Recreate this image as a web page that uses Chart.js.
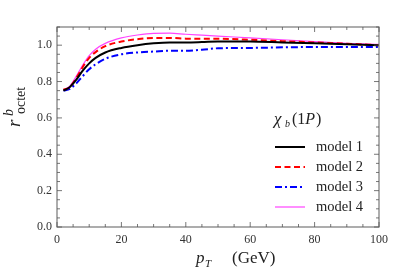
<!DOCTYPE html>
<html>
<head>
<meta charset="utf-8">
<script src="https://cdn.jsdelivr.net/npm/chart.js@4"></script>
<style>
  html, body { margin: 0; padding: 0; background: #fff; }
  #wrap { width: 407px; height: 277px; }
</style>
</head>
<body>
<div id="wrap"><canvas id="ratioChart" width="407" height="277"></canvas></div>
<script>
// pT values (GeV)
const pT = [2, 4, 6, 8, 10, 12, 15, 20, 25, 30, 35, 40, 45, 50, 60, 70, 80, 90, 100];

// r^b_octet for each model
const model1 = [0.750, 0.770, 0.810, 0.860, 0.900, 0.930, 0.960, 0.985, 1.000, 1.010, 1.015, 1.015, 1.017, 1.020, 1.020, 1.015, 1.010, 1.005, 1.000];
const model2 = [0.755, 0.770, 0.820, 0.880, 0.930, 0.962, 0.995, 1.020, 1.033, 1.040, 1.040, 1.036, 1.035, 1.035, 1.030, 1.022, 1.015, 1.008, 1.000];
const model3 = [0.750, 0.760, 0.790, 0.830, 0.868, 0.895, 0.925, 0.950, 0.960, 0.965, 0.970, 0.970, 0.975, 0.983, 0.985, 0.988, 0.990, 0.990, 0.990];
const model4 = [0.755, 0.775, 0.830, 0.890, 0.942, 0.978, 1.010, 1.040, 1.056, 1.065, 1.066, 1.060, 1.055, 1.050, 1.040, 1.030, 1.020, 1.010, 1.005];

const labels = ['model 1', 'model 2', 'model 3', 'model 4'];
const colors = ['#000000', '#ff0000', '#0000ff', '#ff44ff'];
const widths = [2, 2, 2, 1.2];
const dashes = [[], [6, 3.5], [7, 3, 2, 3], []];

const xTicks = [0, 20, 40, 60, 80, 100];
const yTicks = [0.0, 0.2, 0.4, 0.6, 0.8, 1.0];

const serif = '"Liberation Serif", "DejaVu Serif", serif';

const series = [model1, model2, model3, model4];
const datasets = series.map((vals, i) => ({
    label: labels[i],
    data: pT.map((x, j) => ({ x: x, y: vals[j] })),
    borderColor: colors[i],
    borderWidth: widths[i],
    borderDash: dashes[i],
    pointRadius: 0,
    cubicInterpolationMode: 'monotone',
    fill: false
}));

// frame, inward ticks (major + minor, mirrored), axis titles, inset legend
const framePlugin = {
    id: 'frame',
    afterDraw(chart) {
        const ctx = chart.ctx;
        const a = chart.chartArea;
        const xs = chart.scales.x, ys = chart.scales.y;
        ctx.save();
        ctx.strokeStyle = '#777';
        ctx.lineWidth = 1.2;
        ctx.strokeRect(a.left, a.top, a.right - a.left, a.bottom - a.top);

        ctx.strokeStyle = '#555';
        ctx.lineWidth = 0.8;
        for (let v = 0; v <= 100; v += 5) {
            const px = xs.getPixelForValue(v);
            const len = v % 20 === 0 ? 5 : 3;
            ctx.beginPath();
            ctx.moveTo(px, a.bottom); ctx.lineTo(px, a.bottom - len);
            ctx.moveTo(px, a.top); ctx.lineTo(px, a.top + len);
            ctx.stroke();
        }
        for (let k = 0; k <= 22; k++) {
            const v = k * 0.05;
            const py = ys.getPixelForValue(v);
            const len = k % 4 === 0 ? 5 : 3;
            ctx.beginPath();
            ctx.moveTo(a.left, py); ctx.lineTo(a.left + len, py);
            ctx.moveTo(a.right, py); ctx.lineTo(a.right - len, py);
            ctx.stroke();
        }

        // x title: p_T   (GeV)
        ctx.fillStyle = '#222';
        ctx.textBaseline = 'alphabetic';
        ctx.textAlign = 'left';
        ctx.font = 'italic 17px ' + serif;
        ctx.fillText('p', 196, 263);
        ctx.font = 'italic 11px ' + serif;
        ctx.fillText('T', 205, 267);
        ctx.font = '17px ' + serif;
        ctx.fillText('(GeV)', 232, 263);

        // y title: r^b_octet, rotated
        ctx.save();
        ctx.translate(20, 127);
        ctx.rotate(-Math.PI / 2);
        ctx.font = 'italic 19px ' + serif;
        ctx.fillText('r', 0, 0);
        ctx.font = '14px ' + serif;
        ctx.fillText('octet', 13, 5);
        ctx.font = 'italic 14px ' + serif;
        ctx.fillText('b', 11, -7);
        ctx.restore();

        // legend title: chi_b(1P)
        ctx.font = 'italic 17px ' + serif;
        ctx.fillText('\u03c7', 274, 124);
        ctx.font = 'italic 10px ' + serif;
        ctx.fillText('b', 285, 127);
        ctx.font = '16px ' + serif;
        ctx.fillText('(1', 292, 124);
        const w1 = ctx.measureText('(1').width;
        ctx.font = 'italic 16px ' + serif;
        ctx.fillText('P', 292 + w1, 124);
        const w2 = ctx.measureText('P').width;
        ctx.font = '16px ' + serif;
        ctx.fillText(')', 292 + w1 + w2 + 1, 124);

        // legend entries
        chart.data.datasets.forEach((ds, i) => {
            const y = 147 + i * 20;
            ctx.strokeStyle = ds.borderColor;
            ctx.lineWidth = ds.borderWidth;
            ctx.setLineDash(ds.borderDash);
            ctx.beginPath();
            ctx.moveTo(275, y); ctx.lineTo(305, y);
            ctx.stroke();
            ctx.setLineDash([]);
            ctx.fillStyle = '#222';
            ctx.font = '14.5px ' + serif;
            ctx.textBaseline = 'middle';
            ctx.fillText(ds.label, 316, y);
        });
        ctx.restore();
    }
};

const ctx = document.getElementById('ratioChart').getContext('2d');
const ratioChart = new Chart(ctx, {
    type: 'line',
    data: { datasets: datasets },
    options: {
        responsive: false,
        animation: false,
        layout: { padding: { left: 0, right: 28, top: 27, bottom: 0 } },
        plugins: { legend: { display: false }, tooltip: { enabled: false } },
        scales: {
            x: {
                type: 'linear',
                min: 0, max: 100,
                afterFit: s => { s.height = 50; },
                afterBuildTicks: s => { s.ticks = xTicks.map(v => ({ value: v })); },
                grid: { display: false, drawTicks: false },
                border: { display: false },
                ticks: { padding: 6, color: '#333', font: { family: serif, size: 12 } }
            },
            y: {
                type: 'linear',
                min: 0, max: 1.1,
                afterFit: s => { s.width = 57; },
                afterBuildTicks: s => { s.ticks = yTicks.map(v => ({ value: v })); },
                grid: { display: false, drawTicks: false },
                border: { display: false },
                ticks: {
                    padding: 5, color: '#333',
                    font: { family: serif, size: 12 },
                    callback: v => Number(v).toFixed(1)
                }
            }
        }
    },
    plugins: [framePlugin]
});
</script>
</body>
</html>
